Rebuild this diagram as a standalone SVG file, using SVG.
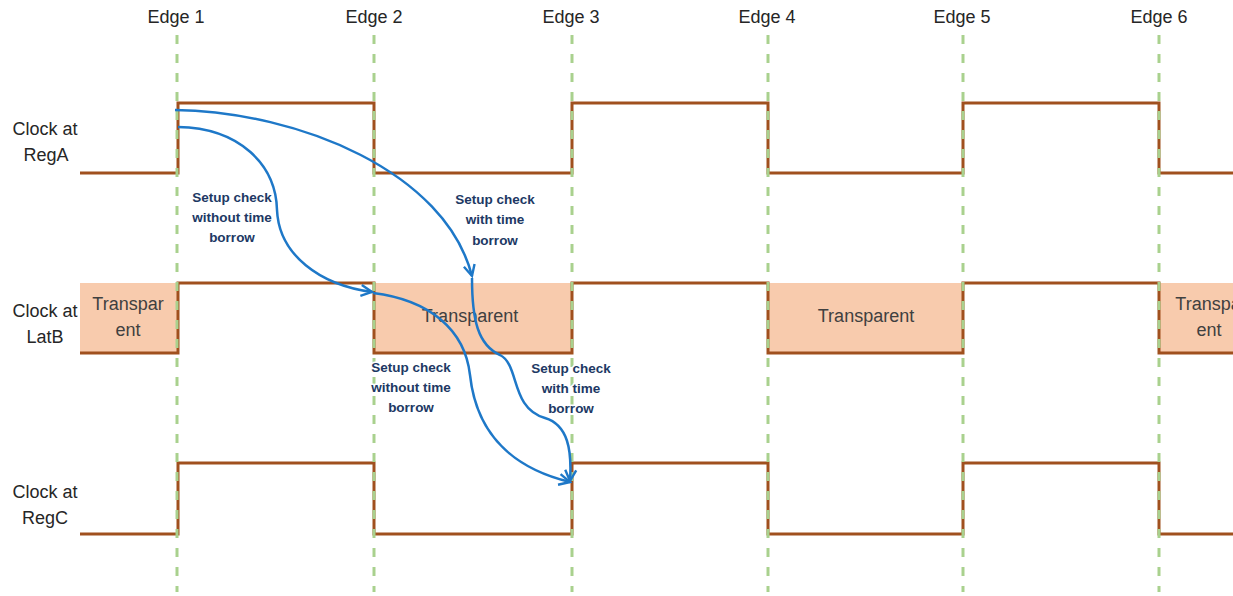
<svg xmlns="http://www.w3.org/2000/svg" width="1233" height="596" viewBox="0 0 1233 596">
<style>
.bg{fill:#ffffff}
.box{fill:#F8CBAD;stroke:none}
.wave{fill:none;stroke:#A0501E;stroke-width:3;stroke-linejoin:miter}
.grid{stroke:#A9D18E;stroke-width:3;stroke-dasharray:9 10}
.edge{font-family:"Liberation Sans",Arial,sans-serif;font-size:18px;fill:#262626;text-anchor:middle}
.sig{font-family:"Liberation Sans",Arial,sans-serif;font-size:18px;fill:#262626;text-anchor:middle}
.tr{font-family:"Liberation Sans",Arial,sans-serif;font-size:18px;fill:#404040;text-anchor:middle}
.note{font-family:"Liberation Sans",Arial,sans-serif;font-size:13.5px;font-weight:bold;fill:#203864;text-anchor:middle;stroke:#ffffff;stroke-width:3;paint-order:stroke;stroke-linejoin:round}
.arr{fill:none;stroke:#1E78C8;stroke-width:2.5}
</style>
<defs>
<marker id="ah" viewBox="0 0 14 14" refX="12" refY="7" markerWidth="14" markerHeight="14" markerUnits="userSpaceOnUse" orient="auto">
<path d="M1,1.5 L12,7 L1,12.5" fill="none" stroke="#1E78C8" stroke-width="2.4"/>
</marker>
</defs>
<rect class="bg" x="0" y="0" width="1233" height="596"/>

<g id="latB-transparent">
<rect class="box" x="80" y="283" width="97" height="70"/>
<rect class="box" x="374" y="283" width="198" height="70"/>
<rect class="box" x="768" y="283" width="195" height="70"/>
<rect class="box" x="1159" y="283" width="74" height="70"/>
<text class="tr" x="128" y="310">Transpar</text>
<text class="tr" x="128" y="336">ent</text>
<text class="tr" x="470" y="322">Transparent</text>
<text class="tr" x="866" y="322">Transparent</text>
<text class="tr" x="1211" y="310">Transpar</text>
<text class="tr" x="1209" y="336">ent</text>
</g>

<g id="regA">
<text class="sig" x="45" y="135">Clock at</text>
<text class="sig" x="46" y="161">RegA</text>
<path class="wave" d="M80,173 H178 V103 H374 V173 H572 V103 H768 V173 H963 V103 H1159 V173 H1233"/>
</g>
<g id="latB">
<text class="sig" x="45" y="317">Clock at</text>
<text class="sig" x="45" y="343">LatB</text>
<path class="wave" d="M80,353 H178 V283 H374 V353 H572 V283 H768 V353 H963 V283 H1159 V353 H1233"/>
</g>
<g id="regC">
<text class="sig" x="45" y="498">Clock at</text>
<text class="sig" x="45" y="524">RegC</text>
<path class="wave" d="M80,534 H178 V463 H374 V534 H572 V463 H768 V534 H963 V463 H1159 V534 H1233"/>
</g>

<g id="edges">
<text class="edge" x="176" y="23">Edge 1</text>
<text class="edge" x="374" y="23">Edge 2</text>
<text class="edge" x="571" y="23">Edge 3</text>
<text class="edge" x="767" y="23">Edge 4</text>
<text class="edge" x="962" y="23">Edge 5</text>
<text class="edge" x="1159" y="23">Edge 6</text>
<line class="grid" x1="177" y1="35" x2="177" y2="592"/>
<line class="grid" x1="374" y1="35" x2="374" y2="592"/>
<line class="grid" x1="572" y1="35" x2="572" y2="592"/>
<line class="grid" x1="768" y1="35" x2="768" y2="592"/>
<line class="grid" x1="963" y1="35" x2="963" y2="592"/>
<line class="grid" x1="1159" y1="35" x2="1159" y2="592"/>
</g>

<g id="connectors">
<path class="arr" marker-end="url(#ah)" d="M178,127 C240,128 276,165 277,210 C279,255 320,285 372,292"/>
<path class="arr" marker-end="url(#ah)" d="M175,110 C300,112 445,172 472,276"/>
<path class="arr" marker-end="url(#ah)" d="M373,293 C430,300 465,330 470,375 C477,440 520,470 570,482"/>
<path class="arr" marker-end="url(#ah)" d="M472,278 C472,320 478,345 500,355 C520,365 510,408 545,418 C568,425 572,450 570,481"/>
</g>

<g id="notes">
<text class="note" x="232" y="202">Setup check</text>
<text class="note" x="232" y="222">without time</text>
<text class="note" x="232" y="242">borrow</text>
<text class="note" x="495" y="204">Setup check</text>
<text class="note" x="495" y="224">with time</text>
<text class="note" x="495" y="245">borrow</text>
<text class="note" x="411" y="372">Setup check</text>
<text class="note" x="411" y="392">without time</text>
<text class="note" x="411" y="412">borrow</text>
<text class="note" x="571" y="373">Setup check</text>
<text class="note" x="571" y="393">with time</text>
<text class="note" x="571" y="413">borrow</text>
</g>
</svg>
